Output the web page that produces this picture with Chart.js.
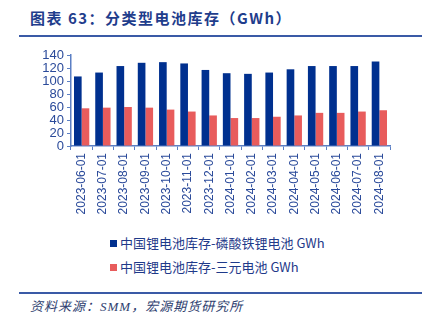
<!DOCTYPE html>
<html><head><meta charset="utf-8">
<script src="https://cdn.jsdelivr.net/npm/chart.js@4"></script>
<style>
html,body{margin:0;padding:0;background:#fff;width:437px;height:324px;overflow:hidden;position:relative;font-family:"Liberation Sans","Noto Sans CJK SC",sans-serif;}
#title{position:absolute;left:30px;top:7px;font:bold 15px "Noto Sans CJK SC",sans-serif;color:#1f3d8c;letter-spacing:1.5px;white-space:nowrap;}
#tline{position:absolute;left:19px;top:35px;width:403px;height:2px;background:#3a5aa6;}
#wrap{position:absolute;left:0;top:40px;width:437px;height:185px;}
#legend{position:absolute;left:110px;top:233px;font:13px "Noto Sans CJK SC","Liberation Sans",sans-serif;color:#1f3a8a;}
.li{height:24px;line-height:20px;white-space:nowrap;}
.sw{display:inline-block;width:7px;height:7px;margin-right:3px;vertical-align:1px;}
#bline{position:absolute;left:19px;top:292px;width:403px;height:2px;background:#3a5aa6;}
#src{position:absolute;left:30px;top:296px;font:italic 13px "Liberation Serif","Noto Sans CJK SC",serif;color:#2f3f70;white-space:nowrap;letter-spacing:1px;}
</style></head><body>
<div id="title">图表 63：分类型电池库存（GWh）</div>
<div id="tline"></div>
<div id="wrap"><canvas id="c"></canvas></div>
<div id="legend"></div>
<div id="bline"></div>
<div id="src">资料来源：SMM，宏源期货研究所</div>
<script>
const categories = ["2023-06-01","2023-07-01","2023-08-01","2023-09-01","2023-10-01","2023-11-01","2023-12-01","2024-01-01","2024-02-01","2024-03-01","2024-04-01","2024-05-01","2024-06-01","2024-07-01","2024-08-01"];
const lfpName = "中国锂电池库存-磷酸铁锂电池 GWh";
const nmcName = "中国锂电池库存-三元电池 GWh";
const lfpValues = [107,113,123,128,129,127,117,112,111,113,118,123,123,123,130];
const nmcValues = [58,59,60,59,56,53,47,43,43,45,47,51,51,53,55];
const yTicks = [0,20,40,60,80,100,120,140];

const colors = ["#00308f","#e85c5c"];
const datasets = [
  {label:lfpName,data:lfpValues,backgroundColor:colors[0]},
  {label:nmcName,data:nmcValues,backgroundColor:colors[1]}
];
const leg = document.getElementById('legend');
datasets.forEach(d=>{
  const div=document.createElement('div');div.className='li';
  div.innerHTML='<span class="sw" style="background:'+d.backgroundColor+'"></span>'+d.label;
  leg.appendChild(div);
});
const axisColor="#5b7fc4";
const tickColor="#2a4a9a";
new Chart(document.getElementById('c'),{
  type:'bar',
  data:{labels:categories,datasets:datasets.map(d=>Object.assign({categoryPercentage:0.72,barPercentage:1.0,borderWidth:0},d))},
  options:{
    responsive:true,maintainAspectRatio:false,animation:false,
    layout:{padding:{top:15,right:47,left:0,bottom:0}},
    plugins:{legend:{display:false},tooltip:{enabled:false}},
    scales:{
      x:{
        offset:true,
        grid:{display:true,drawOnChartArea:false,color:axisColor,tickLength:4,offset:true},
        border:{display:true,color:axisColor,width:1.5},
        ticks:{color:tickColor,font:{size:12,family:"Liberation Sans"},maxRotation:90,minRotation:90,padding:3,autoSkip:false},
        afterFit:s=>{s.height=79;}
      },
      y:{
        min:0,max:140,
        afterBuildTicks:s=>{s.ticks=yTicks.map(v=>({value:v}));},
        grid:{display:true,drawOnChartArea:false,color:axisColor,tickLength:4},
        border:{display:true,color:axisColor,width:1.5},
        ticks:{color:tickColor,font:{size:13,family:"Liberation Sans"},padding:3,autoSkip:false},
        afterFit:s=>{s.width=71;}
      }
    }
  }
});
</script>
</body></html>
